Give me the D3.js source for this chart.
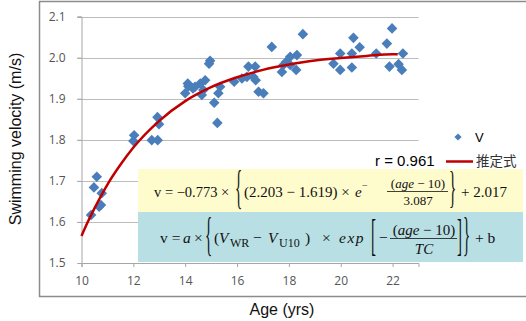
<!DOCTYPE html>
<html>
<head>
<meta charset="utf-8">
<script src="https://cdn.jsdelivr.net/npm/d3@7"></script>
<style>
  body { margin: 0; background: #fff; }
  svg { display: block; }
  .tick text { font-family: "Open Sans", sans-serif; font-size: 12px; fill: #555; }
  .title { font-family: "Liberation Sans", Arial, sans-serif; font-size: 16px; fill: #111; }
  .math { font-family: "Liberation Serif", serif; fill: #111; }
</style>
</head>
<body>
<div id="chart"></div>
<script>
// scatter data: age (yrs) and swimming velocity (m/s)
const ages = [10.37, 10.48, 10.59, 10.68, 10.75, 10.78, 12.03, 12.0, 12.71, 12.94, 12.93, 12.99,
  14.0, 14.1, 14.12, 14.3, 14.38, 14.58, 14.64, 14.7, 14.77, 14.92, 14.96, 15.12, 15.24, 15.28, 15.35,
  15.89, 16.19, 16.38, 16.44, 16.63, 16.70, 16.72, 16.83, 17.02, 17.34, 17.73, 17.79, 17.9, 18.05, 18.05,
  18.31, 18.28, 18.54, 19.72, 19.98, 19.98, 20.43, 20.43, 20.49, 20.73, 21.37, 21.78, 21.98, 21.88,
  22.23, 22.4, 22.36];
const speeds = [1.617, 1.684, 1.710, 1.637, 1.641, 1.670, 1.811, 1.797, 1.799, 1.799, 1.855, 1.838,
  1.913, 1.937, 1.930, 1.925, 1.929, 1.937, 1.909, 1.921, 1.945, 1.985, 1.992, 1.890, 1.841, 1.913, 1.929,
  1.941, 1.949, 1.953, 1.978, 1.953, 1.978, 1.945, 1.917, 1.913, 2.026, 1.965, 1.982, 1.990, 2.002, 1.982,
  2.006, 1.970, 2.057, 1.985, 2.010, 1.970, 2.010, 1.976, 2.048, 2.025, 2.010, 2.034, 2.071, 1.978,
  1.984, 2.010, 1.970];
// estimated curve (推定式)
const fitAges = [10, 10.25, 10.5, 11, 11.5, 12, 13, 14, 15, 16, 17, 18, 19, 20, 21, 22, 22.2];
const fitValues = [1.566, 1.601, 1.633, 1.691, 1.739, 1.781, 1.846, 1.894, 1.928, 1.952, 1.970, 1.983,
  1.993, 1.999, 2.004, 2.008, 2.008];
const xTicks = [10, 12, 14, 16, 18, 20, 22];
const yTicks = [1.5, 1.6, 1.7, 1.8, 1.9, 2.0, 2.1];

const width = 526, height = 321;
const svg = d3.select('#chart').append('svg')
  .attr('width', width)
  .attr('height', height);

// chart frame
svg.append('rect')
  .attr('x', 39.5).attr('y', 1.5)
  .attr('width', 500).attr('height', 295)
  .attr('fill', 'none')
  .attr('stroke', '#8c8c8c')
  .attr('stroke-width', 1.5);

const x = d3.scaleLinear().domain([10, 23]).range([81.5, 418.5]);
const y = d3.scaleLinear().domain([1.5, 2.1]).range([263, 16.5]);

// gridlines
svg.append('g').selectAll('line')
  .data(yTicks.slice(1))
  .enter().append('line')
  .attr('x1', 77).attr('x2', x(23))
  .attr('y1', d => Math.round(y(d)) + 0.5).attr('y2', d => Math.round(y(d)) + 0.5)
  .attr('stroke', '#bcbcbc');

// axes
const yAxis = svg.append('g')
  .attr('transform', 'translate(' + x(10) + ',0)')
  .call(d3.axisLeft(y).tickValues(yTicks).tickFormat(d3.format('.1f')).tickSize(4).tickPadding(12));
const xAxis = svg.append('g')
  .attr('transform', 'translate(0,' + y(1.5) + ')')
  .call(d3.axisBottom(x).tickValues(xTicks).tickSize(4).tickPadding(9));
[xAxis, yAxis].forEach(a => {
  a.select('.domain').attr('stroke', '#a6a6a6');
  a.selectAll('.tick line').attr('stroke', '#a6a6a6');
});

// data points
const diamond = d3.symbol().type(d3.symbolSquare).size(56);
svg.append('g').selectAll('path')
  .data(ages.map((a, i) => [a, speeds[i]]))
  .enter().append('path')
  .attr('d', diamond)
  .attr('transform', d => 'translate(' + x(d[0]) + ',' + y(d[1]) + ') rotate(45)')
  .attr('fill', '#4a7ebb');

// estimated curve
const line = d3.line()
  .x(d => x(d[0]))
  .y(d => y(d[1]))
  .curve(d3.curveMonotoneX);
svg.append('path')
  .datum(fitAges.map((a, i) => [a, fitValues[i]]))
  .attr('d', line)
  .attr('fill', 'none')
  .attr('stroke', '#c00000')
  .attr('stroke-width', 2.5);

// axis titles
svg.append('text')
  .attr('class', 'title')
  .attr('transform', 'translate(21,139) rotate(-90)')
  .attr('text-anchor', 'middle')
  .text('Swimming velocity (m/s)');
svg.append('text')
  .attr('class', 'title')
  .attr('x', 282).attr('y', 315)
  .attr('text-anchor', 'middle')
  .text('Age (yrs)');

// legend
svg.append('path')
  .attr('d', d3.symbol().type(d3.symbolSquare).size(26))
  .attr('transform', 'translate(458,137) rotate(45)')
  .attr('fill', '#4a7ebb');
svg.append('text')
  .attr('x', 475).attr('y', 142)
  .style('font', '13px "Liberation Sans", Arial, sans-serif')
  .text('V');
svg.append('text')
  .attr('x', 375).attr('y', 166)
  .style('font', '15px "Liberation Sans", Arial, sans-serif')
  .text('r = 0.961');
svg.append('line')
  .attr('x1', 446).attr('x2', 473)
  .attr('y1', 161.5).attr('y2', 161.5)
  .attr('stroke', '#c00000')
  .attr('stroke-width', 2.5);
svg.append('text')
  .attr('x', 476).attr('y', 166)
  .style('font', '13.5px "Noto Sans CJK JP", sans-serif')
  .style('fill', '#333')
  .text('推定式');

// formula boxes
svg.append('rect')
  .attr('x', 138).attr('y', 169).attr('width', 385).attr('height', 43)
  .attr('fill', '#fefbcc');
svg.append('rect')
  .attr('x', 138).attr('y', 212).attr('width', 385).attr('height', 50)
  .attr('fill', '#b8dfe4');

const f = svg.append('g').attr('class', 'math');

function put(xPos, yPos, str, size, opts) {
  opts = opts || {};
  const t = f.append('text')
    .attr('x', xPos).attr('y', yPos)
    .attr('font-size', size)
    .attr('text-anchor', opts.anchor || 'start')
    .text(str);
  if (opts.italic) t.attr('font-style', 'italic');
  if (opts.spacing) t.attr('letter-spacing', opts.spacing);
  return t;
}
// stretched brace / bracket, centred vertically on cy
function big(xPos, cy, ch, h) {
  const s = h / (0.85 * 15);
  f.append('text')
    .attr('transform', 'translate(' + xPos + ',' + cy + ') scale(1,' + s + ')')
    .attr('y', 3.8)
    .attr('font-size', 15)
    .text(ch);
}
function frac(cx, barY, num, den, x1, x2, size) {
  const n = put(cx, barY - 4, '', size, { anchor: 'middle' });
  num.forEach(p => n.append('tspan').attr('font-style', p[1] ? 'italic' : 'normal').text(p[0]));
  const d = put(cx, barY + size, '', size, { anchor: 'middle' });
  den.forEach(p => d.append('tspan').attr('font-style', p[1] ? 'italic' : 'normal').text(p[0]));
  f.append('line')
    .attr('x1', x1).attr('x2', x2)
    .attr('y1', barY).attr('y2', barY)
    .attr('stroke', '#111').attr('stroke-width', 0.8);
}

// yellow: fitted equation
put(154, 197, 'v = −0.773 ×', 14.5);
big(235, 191, '{', 40);
put(244, 197, '(2.203 − 1.619) ×', 15);
put(355, 197, 'e', 15, { italic: true });
put(362, 189, '−', 10);
frac(418, 191.5, [['(', 0], ['age', 1], [' − 10)', 0]], [['3.087', 0]], 387, 448, 13);
big(449, 191, '}', 38);
put(461, 197, '+ 2.017', 15);

// blue: model equation
put(160, 243, 'v =', 15.5);
put(183, 243, 'a', 15.5, { italic: true });
put(194, 243, '×', 15.5);
big(205, 238, '{', 40);
put(214, 243, '(', 15.5);
put(219, 243, 'V', 15.5, { italic: true });
put(230, 247, 'WR', 12);
put(253, 243, '−', 15.5);
put(268, 243, 'V', 15.5, { italic: true });
put(279, 247, 'U10', 12);
put(305, 243, ')', 15.5);
put(322, 243, '×', 15.5);
put(339, 243, 'exp', 15.5, { italic: true, spacing: 1.5 });
big(371, 239, '[', 37);
put(379, 243, '−', 15.5);
frac(424, 238.5, [['(', 0], ['age', 1], [' − 10)', 0]], [['TC', 1]], 390, 457, 15);
big(457, 239, ']', 37);
big(463, 238, '}', 40);
put(475, 243, '+ b', 15.5);
</script>
</body>
</html>
